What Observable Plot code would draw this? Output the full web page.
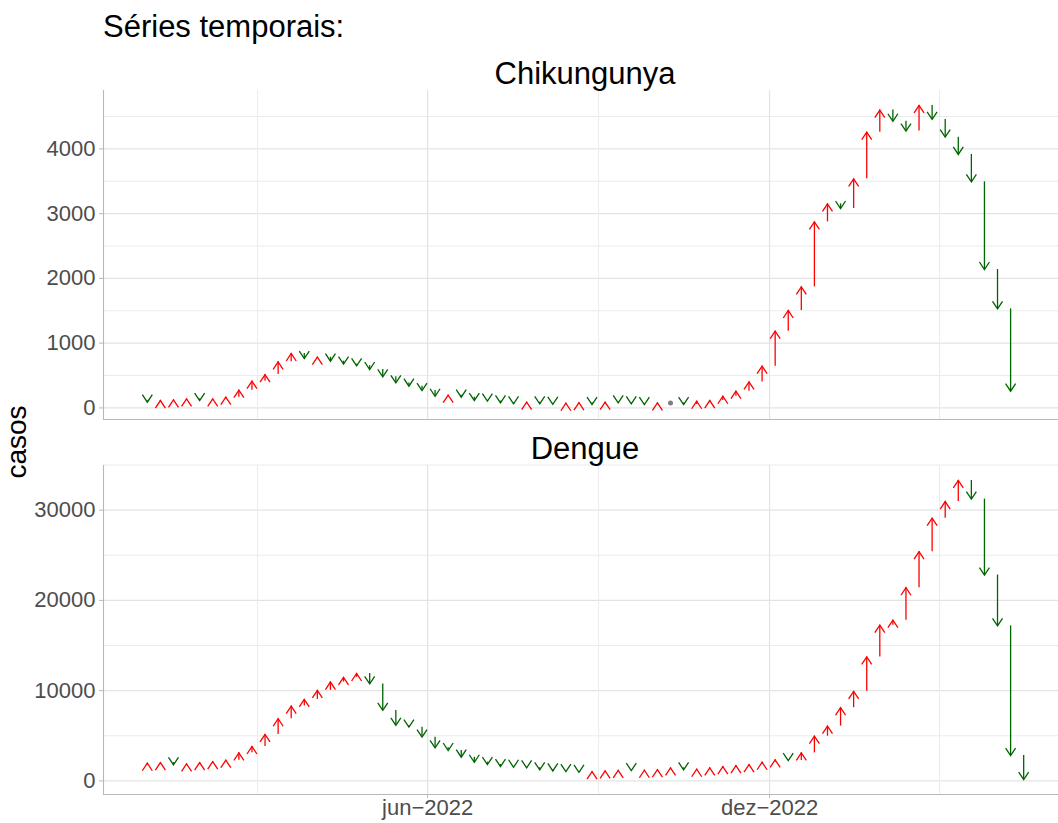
<!DOCTYPE html>
<html><head><meta charset="utf-8">
<script src="https://cdn.jsdelivr.net/npm/d3@7"></script>
<script src="https://cdn.jsdelivr.net/npm/@observablehq/plot@0.6"></script>
<style>
html,body{margin:0;padding:0;background:#fff;overflow:hidden;}
#root{position:relative;width:1058px;height:823px;font-family:"Liberation Sans",Arial,sans-serif;overflow:hidden;}
.t{position:absolute;line-height:1;white-space:nowrap;color:#000;}
.p{position:absolute;left:0;}
</style></head><body><div id="root"></div>
<script>
// ---- data ----
const firstWeek = "2022-01-02";           // first epidemiological week shown (Sunday)
const diseases = ["Chikungunya", "Dengue"];
const chikPrevWeek = 110;                  // cases in the week before the first arrow
const chikCases = [88,114,124,139,114,139,165,273,412,515,
  711,840,762,783,721,675,650,593,480,386,
  335,268,180,196,165,114,105,77,62,88,
  62,55,72,80,52,88,77,62,52,77,
  77,52,103,114,180,258,402,644,1185,1504,
  1869,2873,3151,3079,3537,4258,4598,4426,4275,4670,
  4454,4181,3913,3490,2137,1529,258];
const denguePrevWeek = 1700;
const dengueCases = [1956,2033,1778,1889,2033,2144,2290,3110,3810,5144,
  6885,8290,9033,10033,10956,11478,11900,10750,7811,6144,
  5956,4844,3667,3367,2622,2067,1811,1589,1511,1444,
  1222,1100,1030,956,1030,1100,1170,1140,1180,1250,
  1444,1222,1290,1444,1589,1700,1811,2067,2330,2256,
  3110,4956,6070,8110,9922,13733,17256,17811,21400,25400,
  29111,30956,33290,31222,22811,17178,2811,150];
const xMajorDates = ["2022-06-01","2022-12-01"];
const xMajorLabels = ["jun\u22122022","dez\u22122022"];
const xOuterMajors = ["2021-12-01","2023-06-01"];
const chikTicks = [0,1000,2000,3000,4000];
const chikMinor = [500,1500,2500,3500,4500];
const dengueTicks = [0,10000,20000,30000];
const dengueMinor = [5000,15000,25000,35000];

// ---- build ----
const parse = d3.utcParse("%Y-%m-%d");
const start = parse(firstWeek);
function rows(prev0, cases) {
  return cases.map((v, i) => ({
    date: d3.utcWeek.offset(start, i),
    prev: i === 0 ? prev0 : cases[i - 1],
    value: v
  }));
}
const chikRows = rows(chikPrevWeek, chikCases);
const dengueRows = rows(denguePrevWeek, dengueCases);

const allDates = chikRows.concat(dengueRows).map(d => d.date);
const [dMin, dMax] = d3.extent(allDates);
const pad = (dMax - dMin) * 0.05;
const xDomain = [new Date(+dMin - pad), new Date(+dMax + pad)];

const majors = xMajorDates.map(parse);
const allMajors = [parse(xOuterMajors[0]), ...majors, parse(xOuterMajors[1])];
const minors = d3.pairs(allMajors).map(([a, b]) => new Date((+a + +b) / 2))
  .filter(d => d >= xDomain[0] && d <= xDomain[1]);
const labelMap = new Map(majors.map((d, i) => [+d, xMajorLabels[i]]));

function yDomainOf(rs) {
  const vals = rs.flatMap(d => [d.prev, d.value]);
  const [a, b] = d3.extent(vals);
  const p = (b - a) * 0.05;
  return [a - p, b + p];
}

const upHead = {draw(ctx) { ctx.moveTo(-5, 7.5); ctx.lineTo(0, 0); ctx.lineTo(5, 7.5); }};
const downHead = {draw(ctx) { ctx.moveTo(-5, -7.5); ctx.lineTo(0, 0); ctx.lineTo(5, -7.5); }};
const RED = "#ff0000", GREEN = "#006400", GRID = "#e3e3e3", GRIDMINOR = "#ebebeb", AXIS = "#b8b8b8", TXT = "#4d4d4d";

function panel(rs, yTicks, yMinor, showX, height, marginBottom) {
  const yDomain = yDomainOf(rs);
  const up = rs.filter(d => d.value > d.prev);
  const down = rs.filter(d => d.value < d.prev);
  const flat = rs.filter(d => d.value === d.prev);
  const marks = [
    Plot.ruleY(yMinor, {stroke: GRIDMINOR, strokeWidth: 1}),
    Plot.ruleY(yTicks, {stroke: GRID, strokeWidth: 1.2}),
    Plot.ruleX(minors, {stroke: GRIDMINOR, strokeWidth: 1}),
    Plot.ruleX(majors, {stroke: GRID, strokeWidth: 1.2}),
    Plot.ruleX([xDomain[0]], {stroke: AXIS, strokeWidth: 1.1}),
    Plot.ruleY([yDomain[0]], {stroke: AXIS, strokeWidth: 1.1}),
    Plot.axisY(yTicks, {tickSize: 4, tickFormat: () => "", color: AXIS, label: null}),
    Plot.axisY(yTicks, {tickSize: 0, tickPadding: 8, fontSize: 22, color: TXT, tickFormat: d => String(d), label: null}),
    Plot.ruleX(up, {x: "date", y1: "prev", y2: "value", stroke: RED, strokeWidth: 1.3}),
    Plot.ruleX(down, {x: "date", y1: "prev", y2: "value", stroke: GREEN, strokeWidth: 1.3}),
    Plot.dot(up, {x: "date", y: "value", symbol: upHead, fill: "none", stroke: RED, strokeWidth: 1.3}),
    Plot.dot(down, {x: "date", y: "value", symbol: downHead, fill: "none", stroke: GREEN, strokeWidth: 1.3}),
    Plot.dot(flat, {x: "date", y: "value", r: 2.5, fill: "#7f7f7f", stroke: "none"})
  ];
  if (showX) {
    marks.push(
      Plot.axisX(majors, {tickSize: 4, tickFormat: () => "", color: AXIS, label: null}),
      Plot.axisX(majors, {tickSize: 0, tickPadding: 5, fontSize: 22, color: TXT, tickFormat: d => labelMap.get(+d), label: null})
    );
  }
  return Plot.plot({
    width: 1058,
    height,
    marginLeft: 103,
    marginRight: 0,
    marginTop: 10,
    marginBottom,
    style: {fontFamily: '"Liberation Sans", Arial, sans-serif', fontSize: "22px", background: "transparent", color: TXT},
    x: {type: "utc", domain: xDomain, range: [103, 1067], axis: showX ? undefined : null, label: null},
    y: {domain: yDomain, label: null},
    marks
  });
}

const root = document.getElementById("root");
function addText(txt, css) {
  const d = document.createElement("div");
  d.className = "t";
  d.textContent = txt;
  Object.assign(d.style, css);
  root.appendChild(d);
  return d;
}
function addPlot(svg, top) {
  const w = document.createElement("div");
  w.className = "p";
  w.style.top = top + "px";
  w.appendChild(svg);
  root.appendChild(w);
}

addPlot(panel(chikRows, chikTicks, chikMinor, false, 345, 6), 80);
addPlot(panel(dengueRows, dengueTicks, dengueMinor, true, 368, 29), 455);

addText("Séries temporais:", {left: "103px", top: "11px", fontSize: "31px"});
addText(diseases[0], {left: "103px", width: "964px", textAlign: "center", top: "58px", fontSize: "31px"});
addText(diseases[1], {left: "103px", width: "964px", textAlign: "center", top: "433px", fontSize: "31px"});
addText("casos", {left: "17px", top: "442px", fontSize: "28px", transform: "translate(-50%,-50%) rotate(-90deg)"});
</script>
</body></html>
